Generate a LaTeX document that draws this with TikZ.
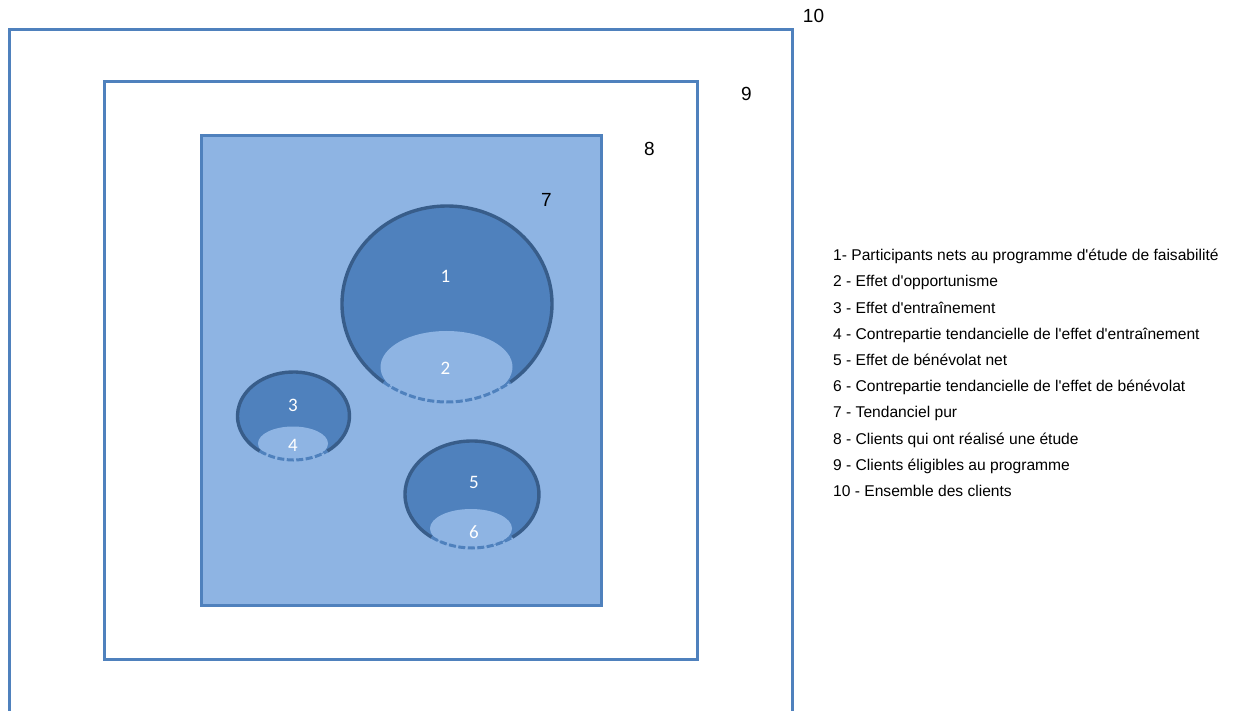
\documentclass[tikz,border=0pt]{standalone}
\usepackage{fontspec}
\setmainfont{Liberation Sans}
\newfontfamily\arial{Liberation Sans}
\newfontfamily\calib{Carlito}
\usepackage{tikz}
\usetikzlibrary{positioning}

\definecolor{frameblue}{HTML}{4F81BD}
\definecolor{paleblue}{HTML}{8EB4E3}
\definecolor{darkblue}{HTML}{385D8A}

\begin{document}
\begin{tikzpicture}[x=1pt, y=1pt, inner sep=0pt]
\useasboundingbox (0,0) rectangle (1235,-711);

\tikzstyle{frame line}=[draw=frameblue, line width=3pt]
\tikzstyle{rim line}=[draw=darkblue, line width=3.4pt]
\tikzstyle{hidden rim}=[draw=frameblue, line width=3pt, dash pattern=on 7pt off 2.5pt]
\tikzstyle{level num}=[font=\arial\fontsize{19}{19}\selectfont]
\tikzstyle{pool num}=[text=white, font=\calib\fontsize{19}{19}\selectfont]
\tikzstyle{legend}=[anchor=base west, font=\arial\fontsize{15.6}{16}\selectfont]

% ensembles emboites
\draw[frame line] (9,-711) -- (9,-29.5) -- (792,-29.5) -- (792,-711);
\draw[frame line] (104.5,-82) rectangle (697,-659);
\draw[frame line, fill=paleblue] (201.5,-135.5) rectangle (601,-605);

\node[level num] (L10) at (813.5,-15.5) {10};
\node[level num] (L9) at (746.5,-94) {9};
\node[level num] (L8) at (649.5,-149) {8};
\node[level num] (L7) at (546.5,-199.5) {7};

% bassins (grande ellipse / petite ellipse)
\foreach \cx/\cy/\rx/\ry/\ex/\ey/\erx/\ery in
    {447/-304/105/98/446.5/-367/66/36,
     293.5/-416/56/44/293/-443.5/35/17,
     472/-494.5/67/53.5/471/-528.5/41/19.5}
{
    \fill[frameblue] (\cx,\cy) ellipse [x radius=\rx, y radius=\ry];
    \fill[paleblue] (\ex,\ey) ellipse [x radius=\erx, y radius=\ery];
    \draw[rim line] (\cx,\cy) ++(-53:\rx pt and \ry pt)
        arc[start angle=-53, end angle=233, x radius=\rx, y radius=\ry];
    \draw[hidden rim] (\cx,\cy) ++(233:\rx pt and \ry pt)
        arc[start angle=233, end angle=307, x radius=\rx, y radius=\ry];
}

\node[pool num] (P1) at (445.5,-276) {1};
\node[pool num] (P2) at (445.5,-368.5) {2};
\node[pool num] (P3) at (293,-405) {3};
\node[pool num] (P4) at (293,-445) {4};
\node[pool num] (P5) at (474,-482) {5};
\node[pool num] (P6) at (474,-532) {6};

% legende
\foreach \i/\txt in {1/1- Participants nets au programme d'étude de faisabilité,
    2/2 - Effet d'opportunisme,
    3/3 - Effet d'entraînement,
    4/4 - Contrepartie tendancielle de l'effet d'entraînement,
    5/5 - Effet de bénévolat net,
    6/6 - Contrepartie tendancielle de l'effet de bénévolat,
    7/7 - Tendanciel pur,
    8/8 - Clients qui ont réalisé une étude,
    9/9 - Clients éligibles au programme,
    10/10 - Ensemble des clients}
    \node[legend] (T\i) at (833,{-260.7-26.2*(\i-1)}) {\txt};

\end{tikzpicture}
\end{document}
